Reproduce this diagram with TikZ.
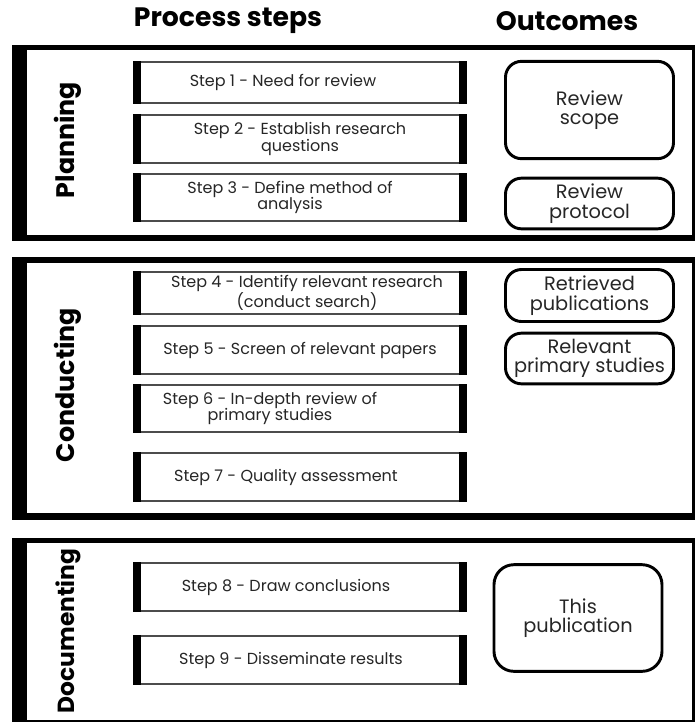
\documentclass[tikz,border=0pt]{standalone}
\usepackage{fontspec}
\setmainfont{Poppins}

\begin{document}
\begin{tikzpicture}
      [x=.75pt,y=-.75pt
      ,stepbox/.style={draw=black!70,line width=.8pt,minimum width=249pt}
      ,steptext/.style={inner sep=0pt,align=center,text=black!85,font=\fontsize{12}{12.5}\selectfont}
      ,edgebar/.style={line width=5.5pt,black}
      ,outbox/.style={draw=black,line width=2.2pt,rounded corners=12pt,minimum width=126pt,inner sep=1pt,align=center,text=black!85,font=\fontsize{14.5}{14.5}\selectfont}
      ,phase/.style={rotate=90,font=\fontsize{19}{21}\selectfont\bfseries}
      ,head/.style={font=\fontsize{20}{22}\selectfont\bfseries}
      ]
        \useasboundingbox (0,0) rectangle (696,722);

        \foreach \t/\b/\ti/\bi in {45/241/50/235, 257/520/263/513, 538/722/543/720}
        {
            \fill[black] (12,\t) rectangle (695,\b);
            \fill[white] (27,\ti) rectangle (692,\bi);
        }

        \node[head] (hsteps) at (228,21) {Process steps};
        \node[head] (hout) at (567,21) {Outcomes};

        \node[phase] (plan) at (68,140) {Planning};
        \node[phase] (cond) at (68,385) {Conducting};
        \node[phase,font=\fontsize{17.5}{20}\selectfont\bfseries] (docu) at (68,631) {Documenting};

        \foreach \n/\t/\b/\dx/\txt in {s1/62/103/-17/{Step 1 - Need for review},
                                       s2/115/163/0/{Step 2 - Establish research\\questions},
                                       s3/174/221/-10/{Step 3 - Define method of\\analysis},
                                       s4/272/314/7/{Step 4 - Identify relevant research\\(conduct search)},
                                       s5/326/374/0/{Step 5 - Screen of relevant papers},
                                       s6/385/432/-30/{Step 6 - In-depth review of\\primary studies},
                                       s7/453/501/-14/{Step 7 - Quality assessment},
                                       s8/563/611/-14/{Step 8 - Draw conclusions},
                                       s9/636/684/-9/{Step 9 - Disseminate results}}
        {
            \node[stepbox,minimum height={(\b-\t)*.75pt}] (\n) at (300,{(\t+\b)/2}) {};
            \node[steptext] (\n txt) at ([xshift=\dx*.75pt]\n.center) {\txt};
            \draw[edgebar] ([xshift=2.75pt]\n.north west) -- ([xshift=2.75pt]\n.south west);
            \draw[edgebar] ([xshift=-2.75pt]\n.north east) -- ([xshift=-2.75pt]\n.south east);
        }

        \node[outbox,minimum height=73pt] (scope) at (589.5,110) {Review\\scope};
        \node[outbox,minimum height=38pt] (protocol) at (589.5,203.5) {Review\\protocol};
        \node[outbox,minimum height=39pt] (retrieved) at (589.5,295.5) {Retrieved\\publications};
        \node[outbox,minimum height=38pt] (relevant) at (589.5,358.5) {Relevant\\primary studies};
        \node[outbox,minimum height=80pt,rounded corners=15pt] (thispub) at (578,618) {This\\publication};

       \end{tikzpicture}
\end{document}
